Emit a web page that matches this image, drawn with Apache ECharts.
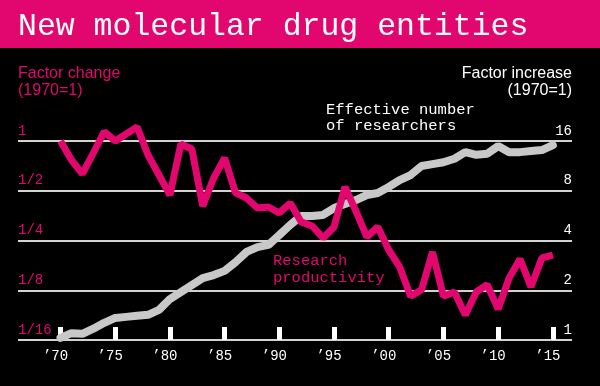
<!DOCTYPE html>
<html>
<head>
<meta charset="utf-8">
<script src="https://cdn.jsdelivr.net/npm/echarts@6/dist/echarts.min.js"></script>
<style>
  html, body { margin: 0; padding: 0; background: #000; }
  #chart { width: 600px; height: 386px; }
</style>
</head>
<body>
<div id="chart"></div>
<script>
// ---- data ----
const years = [1970,1971,1972,1973,1974,1975,1976,1977,1978,1979,
               1980,1981,1982,1983,1984,1985,1986,1987,1988,1989,
               1990,1991,1992,1993,1994,1995,1996,1997,1998,1999,
               2000,2001,2002,2003,2004,2005,2006,2007,2008,2009,
               2010,2011,2012,2013,2014,2015];
// Research productivity, factor change (1970 = 1)
const productivity = [1.0,0.767,0.632,0.846,1.138,1.0,1.102,1.215,0.823,0.623,
                      0.471,0.959,0.895,0.404,0.597,0.789,0.485,0.452,0.393,0.399,
                      0.367,0.421,0.324,0.306,0.259,0.302,0.527,0.377,0.263,0.302,
                      0.219,0.173,0.115,0.126,0.213,0.115,0.122,0.0886,0.122,0.135,
                      0.0963,0.148,0.193,0.131,0.196,0.204];
// Effective number of researchers, factor increase (1970 = 1)
const researchers = [1.03,1.10,1.09,1.17,1.27,1.36,1.38,1.40,1.42,1.52,
                     1.77,1.95,2.15,2.37,2.47,2.62,2.96,3.41,3.65,3.76,
                     4.32,4.97,5.63,5.63,5.71,6.29,6.65,7.03,7.54,7.75,
                     8.43,9.29,9.96,11.3,11.6,11.9,12.5,13.7,13.2,13.4,
                     14.9,13.7,13.7,13.9,14.1,15.1];
const xTickYears  = [1970,1975,1980,1985,1990,1995,2000,2005,2010,2015];
const xTickLabels = ['\u201970','\u201975','\u201980','\u201985','\u201990','\u201995','\u201900','\u201905','\u201910','\u201915'];
const leftTickValues  = [1/16,1/8,1/4,1/2,1];
const leftTickLabels  = ['1/16','1/8','1/4','1/2','1'];
const rightTickValues = [1,2,4,8,16];
const rightTickLabels = ['1','2','4','8','16'];

const PINK = '#e2076f';
const GREY = '#c8c8c8';
const MONO = '"Liberation Mono", "DejaVu Sans Mono", monospace';
const SANS = '"Liberation Sans", Arial, sans-serif';

function labelFor(values, labels, v) {
  let best = 0, bd = Infinity;
  values.forEach((t, i) => { const d = Math.abs(Math.log2(v) - Math.log2(t)); if (d < bd) { bd = d; best = i; } });
  return bd < 0.01 ? labels[best] : '';
}

const chart = echarts.init(document.getElementById('chart'), null, { renderer: 'canvas' });
chart.setOption({
  backgroundColor: '#000',
  animation: false,
  grid: { left: 18, right: 28, top: 141, bottom: 46, containLabel: false },
  xAxis: {
    type: 'value',
    min: 1966.115, max: 2016.75,
    axisLine: { show: false },
    splitLine: { show: false },
    axisTick: {
      show: true, inside: true, length: 13,
      customValues: xTickYears,
      lineStyle: { color: '#fff', width: 5 }
    },
    axisLabel: {
      show: true, customValues: xTickYears, margin: 9,
      color: '#fff', fontFamily: MONO, fontSize: 14,
      padding: [0, 10, 0, 0],
      formatter: v => xTickLabels[xTickYears.indexOf(Math.round(v))] || ''
    }
  },
  yAxis: [
    {
      type: 'log', logBase: 2, min: 1/16, max: 1, position: 'left',
      axisLine: { show: false }, axisTick: { show: false },
      splitLine: { show: true, lineStyle: { color: '#d2d2d2', width: 2 } },
      axisLabel: {
        inside: true, margin: 0, align: 'left', verticalAlign: 'bottom',
        color: PINK, fontFamily: MONO, fontSize: 14, lineHeight: 14, padding: [0,0,3,0],
        formatter: v => labelFor(leftTickValues, leftTickLabels, v)
      }
    },
    {
      type: 'log', logBase: 2, min: 1, max: 16, position: 'right',
      axisLine: { show: false }, axisTick: { show: false },
      splitLine: { show: false },
      axisLabel: {
        inside: true, margin: 0, align: 'right', verticalAlign: 'bottom',
        color: '#fff', fontFamily: MONO, fontSize: 14, lineHeight: 14, padding: [0,0,3,0],
        formatter: v => labelFor(rightTickValues, rightTickLabels, v)
      }
    }
  ],
  series: [
    {
      name: 'Effective number of researchers', type: 'line', yAxisIndex: 1,
      data: years.map((y, i) => [y, researchers[i]]),
      showSymbol: false, symbol: 'none', z: 2, clip: false,
      lineStyle: { color: GREY, width: 8, join: 'bevel', cap: 'round' }
    },
    {
      name: 'Research productivity', type: 'line', yAxisIndex: 0,
      data: years.map((y, i) => [y, productivity[i]]),
      showSymbol: false, symbol: 'none', z: 3, clip: false,
      lineStyle: { color: PINK, width: 7, join: 'bevel', cap: 'butt' }
    }
  ],
  graphic: [
    { type: 'rect', left: 0, top: 0, z: -1, shape: { width: 600, height: 48 }, style: { fill: PINK } },
    { type: 'text', x: 18, y: 27, style: { text: 'New molecular drug entities', fill: '#fff', font: '31.5px ' + MONO, verticalAlign: 'middle', align: 'left' } },
    { type: 'text', x: 18, y: 65, style: { text: 'Factor change\n(1970=1)', fill: PINK, font: '16px ' + SANS, lineHeight: 17, verticalAlign: 'top', align: 'left' } },
    { type: 'text', x: 572, y: 65, style: { text: 'Factor increase\n(1970=1)', fill: '#fff', font: '16px ' + SANS, lineHeight: 17, verticalAlign: 'top', align: 'right' } },
    { type: 'text', x: 326, y: 102, style: { text: 'Effective number\nof researchers', fill: '#fff', font: '15.5px ' + MONO, lineHeight: 16, verticalAlign: 'top', align: 'left' } },
    { type: 'text', x: 273, y: 252, style: { text: 'Research\nproductivity', fill: PINK, font: '15.5px ' + MONO, lineHeight: 17.5, verticalAlign: 'top', align: 'left' } }
  ]
});
</script>
</body>
</html>
